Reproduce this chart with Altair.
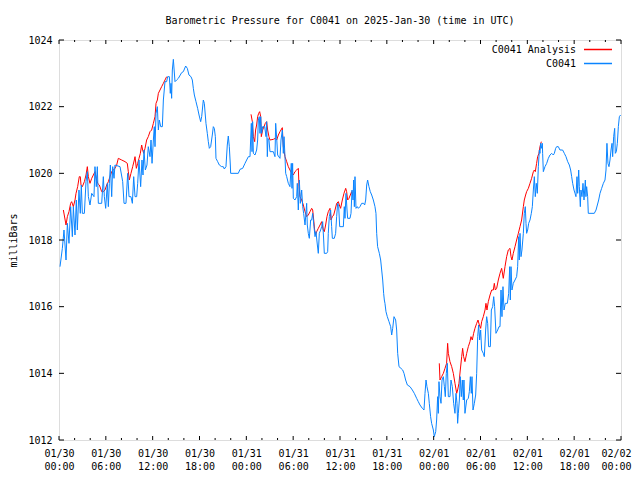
import altair as alt
import pandas as pd

# ---------------- data (hours since 2025-01-30 00:00 UTC, millibars) ----------------
day_labels = ["01/30", "01/31", "02/01", "02/02"]
x_major = list(range(0, 73, 6))
x_minor = [h for h in range(0, 73, 2) if h % 6 != 0]
y_major = [1012, 1014, 1016, 1018, 1020, 1022, 1024]

blue_hours = [
    0.13, 0.43, 0.64, 0.90, 1.07, 1.28, 1.49, 1.71, 1.84, 2.05, 2.22, 2.35, 2.56, 2.73, 2.86, 2.99,
    3.25, 3.46, 3.63, 3.76, 3.97, 4.19, 4.48, 4.61, 4.78, 4.91, 5.04, 5.47, 5.68, 5.81, 5.98, 6.19,
    6.32, 6.45, 6.58, 6.75, 6.88, 7.05, 7.17, 7.82, 8.16, 8.33, 8.58, 8.80, 8.97, 9.22, 9.40, 9.57,
    9.74, 9.95, 10.08, 10.25, 10.46, 10.63, 10.76, 10.89, 11.06, 11.27, 11.44, 11.66, 11.79, 11.92,
    12.09, 12.21, 12.30, 12.43, 12.60, 12.73, 12.85, 13.03, 13.24, 13.37, 13.58, 13.79, 13.92, 14.14,
    14.26, 14.35, 14.43, 14.52, 14.65, 14.86, 15.07, 15.29, 15.71, 15.93, 16.23, 16.44, 16.65, 16.91,
    17.08, 17.21, 17.34, 17.55, 17.76, 17.94, 18.15, 18.28, 18.49, 18.62, 18.83, 19.00, 19.13, 19.26,
    19.43, 19.64, 19.77, 19.90, 20.03, 20.11, 20.33, 20.54, 20.84, 21.05, 21.18, 21.39, 21.56, 21.69,
    21.82, 21.95, 21.99, 22.97, 23.19, 23.53, 23.83, 24.04, 24.26, 24.47, 24.55, 24.64, 24.73, 24.81,
    24.90, 25.11, 25.32, 25.45, 25.54, 25.66, 25.75, 25.84, 25.96, 26.09, 26.35, 26.52, 26.60, 26.69,
    26.77, 26.90, 27.03, 27.46, 27.67, 27.76, 27.89, 28.01, 28.31, 28.44, 28.61, 28.74, 28.83, 28.95,
    29.04, 29.17, 29.38, 29.59, 29.76, 29.85, 29.93, 30.02, 30.23, 30.45, 30.53, 30.66, 30.79, 30.92,
    31.09, 31.22, 31.34, 31.52, 31.73, 31.81, 31.94, 32.07, 32.24, 32.37, 32.50, 32.67, 32.80, 32.92,
    33.10, 33.22, 33.35, 33.52, 33.65, 33.78, 33.91, 33.99, 34.29, 34.42, 34.50, 34.63, 34.80, 34.93,
    35.02, 35.27, 35.44, 35.57, 35.70, 35.83, 35.96, 36.43, 36.55, 36.64, 36.77, 36.90, 36.98, 37.28,
    37.41, 37.54, 37.67, 37.75, 37.84, 37.92, 38.05, 38.22, 38.35, 38.56, 38.78, 39.03, 39.16, 39.29,
    39.42, 39.54, 39.71, 39.88, 40.06, 40.27, 40.48, 40.61, 40.70, 40.82, 41.04, 41.21, 41.34, 41.47,
    41.59, 41.68, 41.76, 41.89, 42.06, 42.28, 42.49, 42.62, 42.75, 42.92, 43.13, 43.26, 43.39, 43.56,
    43.81, 44.03, 44.20, 44.41, 44.63, 44.97, 45.27, 45.52, 45.82, 46.03, 46.25, 46.55, 46.76, 46.89,
    47.02, 47.14, 47.32, 47.44, 47.61, 47.74, 47.96, 48.08, 48.26, 48.38, 48.51, 48.60, 48.68, 48.81,
    48.94, 49.07, 49.24, 49.37, 49.49, 49.62, 49.75, 49.88, 50.09, 50.22, 50.39, 50.56, 50.73, 50.86,
    50.99, 51.07, 51.16, 51.29, 51.41, 51.54, 51.67, 51.80, 51.88, 52.01, 52.23, 52.44, 52.57, 52.70,
    52.82, 52.91, 53.04, 53.21, 53.38, 53.51, 53.64, 53.76, 53.89, 54.02, 54.15, 54.36, 54.49, 54.66,
    54.79, 54.92, 55.04, 55.26, 55.39, 55.56, 55.69, 55.81, 55.98, 56.20, 56.37, 56.50, 56.63, 56.75,
    56.88, 57.01, 57.18, 57.44, 57.61, 57.74, 57.82, 57.91, 58.03, 58.20, 58.42, 58.63, 58.76, 58.89,
    58.97, 59.06, 59.19, 59.31, 59.49, 59.61, 59.74, 59.83, 59.91, 60.04, 60.17, 60.34, 60.51, 60.64,
    60.77, 60.90, 61.02, 61.15, 61.28, 61.41, 61.54, 61.62, 61.71, 61.84, 61.92, 61.96, 62.05, 62.26,
    62.48, 62.69, 62.90, 63.12, 63.33, 63.46, 63.63, 63.76, 63.97, 64.18, 64.52, 64.74, 64.95, 65.17,
    65.38, 65.55, 65.68, 65.81, 65.98, 66.11, 66.23, 66.36, 66.45, 66.58, 66.66, 66.79, 66.87, 67.00,
    67.13, 67.26, 67.43, 67.51, 67.60, 67.73, 67.81, 68.58, 68.80, 68.97, 69.14, 69.31, 69.52, 69.74,
    69.95, 70.08, 70.20, 70.33, 70.46, 70.59, 70.72, 70.85, 70.93, 71.06, 71.19, 71.27, 71.40, 71.53,
    71.66, 71.79, 71.95,
]
blue_mb = [
    1017.2, 1017.75, 1018.3, 1017.4, 1018.5, 1017.9, 1019.0, 1018.1, 1019.0, 1018.15, 1019.2, 1018.3, 1019.5, 1018.8, 1019.65, 1018.8,
    1018.8, 1019.75, 1020.05, 1019.3, 1019.05, 1019.4, 1019.3, 1020.2, 1019.6, 1020.2, 1019.1, 1019.1, 1019.9, 1019.3, 1018.95, 1019.7,
    1019.0, 1019.7, 1020.25, 1019.3, 1020.2, 1019.85, 1020.25, 1020.2, 1019.75, 1019.1, 1019.1, 1020.0, 1019.3, 1019.3, 1019.1, 1019.9,
    1019.3, 1019.3, 1019.7, 1020.4, 1019.6, 1020.4, 1019.95, 1020.7, 1020.1, 1020.25, 1020.8, 1020.5, 1021.0, 1020.3,
    1021.0, 1021.4, 1020.8, 1021.8, 1022.0, 1021.3, 1021.6, 1021.4, 1021.4, 1022.2, 1022.75, 1022.75, 1022.9, 1022.9,
    1022.4, 1022.7, 1022.25, 1023.1, 1023.42, 1022.75, 1022.8, 1022.85, 1023.02, 1023.05, 1023.22, 1023.15, 1022.95, 1022.9,
    1022.8, 1022.55, 1022.35, 1022.15, 1021.95, 1021.75, 1021.55, 1021.7, 1022.2, 1022.1, 1021.5, 1021.2, 1020.95, 1020.75,
    1020.8, 1021.15, 1021.4, 1021.35, 1021.1, 1020.45, 1020.35, 1020.25, 1020.2, 1020.2, 1020.13, 1020.2, 1020.85, 1021.12,
    1020.8, 1020.25, 1020.0, 1020.0, 1020.12, 1020.15, 1020.3, 1020.4, 1020.5, 1020.5, 1021.0, 1021.5, 1020.65, 1021.55,
    1020.6, 1020.55, 1020.7, 1021.0, 1021.6, 1021.7, 1021.2, 1021.7, 1021.2, 1021.4, 1021.4, 1021.1, 1021.55, 1020.5,
    1021.05, 1021.0, 1020.65, 1020.65, 1020.5, 1021.5, 1021.05, 1020.55, 1020.45, 1021.0, 1021.3, 1020.6, 1021.1, 1020.5,
    1020.0, 1019.9, 1019.7, 1019.6, 1020.3, 1019.55, 1020.3, 1019.25, 1019.2, 1019.3, 1019.7, 1018.9, 1019.8, 1019.1,
    1019.5, 1019.0, 1018.8, 1018.45, 1019.1, 1018.45, 1018.2, 1018.05, 1018.6, 1018.6, 1018.8, 1018.4, 1018.1, 1018.25,
    1017.85, 1017.6, 1018.2, 1018.3, 1018.4, 1018.55, 1018.0, 1017.6, 1017.6, 1017.65, 1018.2, 1018.7, 1018.9, 1018.4,
    1018.05, 1018.05, 1018.2, 1018.7, 1019.1, 1019.0, 1018.4, 1018.4, 1019.0, 1018.65, 1019.4, 1018.9, 1018.65, 1018.65,
    1018.8, 1019.5, 1019.2, 1019.8, 1019.0, 1019.9, 1018.95, 1019.0, 1018.95, 1019.0, 1019.1, 1019.1, 1019.05, 1019.2,
    1019.65, 1019.8, 1019.6, 1019.45, 1019.35, 1019.2, 1019.0, 1018.8, 1018.2, 1017.8, 1017.6, 1017.4, 1017.1, 1016.8,
    1016.4, 1016.2, 1016.1, 1015.85, 1015.7, 1015.55, 1015.4, 1015.15, 1015.35, 1015.7, 1015.6, 1015.3, 1014.6, 1014.2,
    1014.15, 1014.1, 1014.0, 1013.8, 1013.65, 1013.6, 1013.5, 1013.4, 1013.25, 1013.15, 1013.05, 1012.95, 1012.9, 1013.4,
    1013.8, 1013.6, 1013.4, 1013.1, 1012.7, 1012.5, 1012.3, 1012.1, 1012.25, 1012.6, 1013.3, 1012.8, 1013.75, 1013.3,
    1013.1, 1013.8, 1013.9, 1013.6, 1013.3, 1014.0, 1014.3, 1013.3, 1013.3, 1013.8, 1013.6, 1013.1, 1012.8, 1013.4,
    1013.1, 1012.5, 1012.8, 1013.2, 1013.9, 1013.3, 1013.8, 1013.2, 1013.8, 1012.8, 1013.2, 1013.25, 1013.45, 1013.9,
    1013.4, 1013.9, 1012.9, 1013.1, 1013.35, 1014.0, 1015.1, 1015.45, 1015.0, 1015.3, 1014.7, 1014.6, 1014.5, 1015.3,
    1015.7, 1015.5, 1014.8, 1014.8, 1015.9, 1016.0, 1016.3, 1016.0, 1015.2, 1015.3, 1015.4, 1015.4, 1016.5, 1015.7,
    1016.6, 1015.9, 1016.1, 1016.1, 1016.4, 1017.2, 1016.2, 1017.2, 1016.5, 1016.7, 1016.8, 1016.9, 1017.2, 1018.1,
    1017.4, 1018.2, 1017.5, 1017.7, 1018.2, 1018.8, 1019.0, 1018.5, 1018.2, 1018.3, 1018.5, 1018.6, 1018.8, 1019.0,
    1019.5, 1019.9, 1019.3, 1019.7, 1019.4, 1020.2, 1020.7, 1020.6, 1020.9, 1020.75, 1020.9, 1020.6, 1020.05, 1020.2,
    1020.3, 1020.45, 1020.55, 1020.6, 1020.55, 1020.6, 1020.75, 1020.8, 1020.8, 1020.7, 1020.7, 1020.6, 1020.5, 1020.35,
    1020.25, 1020.1, 1019.9, 1019.7, 1019.5, 1019.4, 1019.3, 1019.9, 1019.4, 1020.1, 1019.6, 1019.0, 1019.5, 1019.3,
    1019.7, 1019.2, 1019.8, 1019.3, 1019.6, 1019.3, 1018.8, 1018.8, 1018.9, 1019.05, 1019.2, 1019.4, 1019.55, 1019.7,
    1019.8, 1020.1, 1020.9, 1020.3, 1020.2, 1020.4, 1020.7, 1020.9, 1020.5, 1021.1, 1021.35, 1020.6, 1020.65, 1020.9,
    1021.4, 1021.7, 1021.75,
]

red_hours_1 = [
    0.56, 0.90, 1.07, 1.28, 1.49, 1.62, 1.84, 2.05, 2.18, 2.39, 2.60, 2.73, 2.82, 2.99, 3.25, 3.46,
    3.63, 3.76, 3.97, 4.19, 4.40, 4.61, 4.78, 4.95, 5.17, 5.47, 5.68, 5.89, 6.11, 6.32, 6.53, 6.75,
    6.96, 7.17, 7.39, 7.60, 8.03, 8.46, 8.75, 8.88, 9.01, 9.22, 9.44, 9.65, 9.74, 9.91, 10.08, 10.25,
    10.42, 10.59, 10.72, 10.85, 11.02, 11.23, 11.44, 11.66, 11.87, 12.09, 12.30, 12.43, 12.60, 12.73,
    12.94, 13.15, 13.37, 13.58, 13.79,
]
red_mb_1 = [
    1018.9, 1018.45, 1018.7, 1018.85, 1019.1, 1019.15, 1019.0, 1019.2, 1019.4, 1019.6, 1019.9, 1019.9, 1019.65, 1019.6, 1019.75, 1019.95,
    1020.2, 1019.9, 1019.7, 1019.85, 1019.95, 1020.05, 1019.85, 1019.7, 1019.65, 1019.45, 1019.45, 1019.5, 1019.65, 1019.75, 1019.9, 1020.05,
    1020.1, 1020.15, 1020.25, 1020.45, 1020.4, 1020.35, 1020.3, 1020.05, 1019.8, 1020.0, 1020.2, 1020.4, 1020.5, 1020.15, 1020.3, 1020.45,
    1020.6, 1020.85, 1020.7, 1020.6, 1020.75, 1021.0, 1021.1, 1021.25, 1021.3, 1021.5, 1021.7, 1022.1, 1022.2, 1022.4,
    1022.5, 1022.6, 1022.7, 1022.8, 1022.9,
]

red_hours_2 = [
    24.60, 24.77, 24.90, 25.07, 25.19, 25.32, 25.45, 25.58, 25.71, 25.84, 25.92, 26.09, 26.26, 26.43, 26.60, 26.73,
    26.90, 27.03, 27.46, 27.71, 27.89, 28.10, 28.31, 28.61, 28.74, 28.95, 29.17, 29.38, 29.59, 29.81, 30.02, 30.23,
    30.45, 30.66, 30.75, 30.87, 31.09, 31.30, 31.52, 31.73, 31.94, 32.16, 32.37, 32.50, 32.63, 32.75, 32.88, 33.01,
    33.22, 33.44, 33.65, 33.86, 33.99, 34.16, 34.33, 34.50, 34.72, 34.85, 35.02, 35.19, 35.36, 35.57, 35.79, 35.91,
    36.08, 36.30, 36.51, 36.73, 36.85, 36.98, 37.15, 37.32, 37.49, 37.62,
]
red_mb_2 = [
    1021.77, 1021.55, 1021.1, 1020.95, 1021.3, 1021.45, 1021.7, 1021.8, 1021.85, 1021.7, 1021.1, 1021.3, 1021.4, 1021.5, 1021.55, 1021.3,
    1021.1, 1021.0, 1021.02, 1021.05, 1021.0, 1021.15, 1021.25, 1021.37, 1020.8, 1020.5, 1020.35, 1020.2, 1020.1, 1020.0, 1019.95, 1020.05,
    1020.1, 1020.15, 1019.6, 1019.3, 1019.2, 1019.05, 1018.85, 1018.7, 1018.75, 1018.85, 1018.95, 1018.9, 1018.6, 1018.3, 1018.15, 1018.25,
    1018.35, 1018.45, 1018.55, 1018.3, 1018.25, 1018.45, 1018.7, 1018.85, 1018.95, 1018.6, 1018.7, 1018.75, 1018.9, 1019.1, 1019.15, 1019.05,
    1018.95, 1019.2, 1019.4, 1019.55, 1019.45, 1019.2, 1019.25, 1019.35, 1019.45, 1019.35,
]

red_hours_3 = [
    48.72, 48.81, 49.02, 49.24, 49.45, 49.66, 49.79, 49.88, 50.09, 50.31, 50.52, 50.73, 50.95, 51.07, 51.24, 51.41,
    51.59, 51.71, 51.84, 52.01, 52.23, 52.44, 52.65, 52.78, 52.95, 53.12, 53.29, 53.51, 53.68, 53.85, 54.02, 54.15,
    54.36, 54.58, 54.70, 54.83, 55.00, 55.22, 55.43, 55.64, 55.77, 55.90, 56.07, 56.28, 56.50, 56.71, 56.92, 57.14,
    57.35, 57.56, 57.78, 57.91, 58.03, 58.20, 58.42, 58.63, 58.85, 59.06, 59.27, 59.49, 59.61, 59.78, 59.91, 60.13,
    60.34, 60.55, 60.77, 60.90, 61.02, 61.19, 61.32, 61.49, 61.62, 61.79,
]
red_mb_3 = [
    1014.3, 1013.8, 1013.9, 1014.0, 1014.15, 1014.3, 1014.9, 1014.6, 1014.35, 1014.2, 1014.0, 1013.7, 1013.4, 1013.5, 1013.7, 1014.1,
    1014.5, 1014.75, 1014.5, 1014.35, 1014.6, 1014.8, 1014.95, 1015.1, 1015.0, 1015.2, 1015.35, 1015.5, 1015.6, 1015.45, 1015.35, 1015.55,
    1015.7, 1015.9, 1016.1, 1015.9, 1016.15, 1016.35, 1016.5, 1016.5, 1016.7, 1016.5, 1016.55, 1016.8, 1017.0, 1017.15, 1016.85, 1017.2,
    1017.5, 1017.7, 1017.75, 1017.5, 1017.4, 1017.6, 1017.8, 1018.0, 1018.2, 1018.4, 1018.6, 1019.0, 1019.2, 1019.35, 1019.45, 1019.55,
    1019.7, 1019.85, 1020.05, 1020.1, 1020.05, 1020.3, 1020.5, 1020.6, 1020.8, 1020.95,
]

legend_labels = ["C0041 Analysis", "C0041"]
title_text = "Barometric Pressure for C0041 on 2025-Jan-30 (time in UTC)"
y_title = "milliBars"

# ---------------- styling ----------------
FONT = "DejaVu Sans Mono"
RED = "#ff0000"
BLUE = "#0a84ff"
W, H = 562, 400

obs = pd.DataFrame({"h": blue_hours, "p": blue_mb})
ana = pd.concat(
    [
        pd.DataFrame({"h": hh, "p": pp, "seg": i})
        for i, (hh, pp) in enumerate(
            [(red_hours_1, red_mb_1), (red_hours_2, red_mb_2), (red_hours_3, red_mb_3)]
        )
    ],
    ignore_index=True,
)

xs = alt.Scale(domain=[0, 72], nice=False, zero=False)
ys = alt.Scale(domain=[1012, 1024], nice=False, zero=False)

days_js = "[" + ",".join("'" + d + "'" for d in day_labels) + "]"
label_expr = (
    f"[{days_js}[floor(datum.value / 24)], "
    "(datum.value % 24 < 10 ? '0' : '') + (datum.value % 24) + ':00']"
)

x_axis = alt.Axis(
    values=x_major, labelExpr=label_expr, ticks=False, tickSize=0, domain=False, grid=False,
    labelFont=FONT, labelFontSize=10, labelColor="black", labelPadding=8, labelLineHeight=13.5,
    labelFlush=False, labelOverlap=False, title=None,
    labelOffset=alt.ExprRef("datum.value >= 72 ? -5 : 0"),
)
y_axis = alt.Axis(
    values=y_major, ticks=False, tickSize=0, domain=False, grid=False, format="d",
    labelFont=FONT, labelFontSize=10, labelColor="black", labelPadding=7, labelFlush=False,
    title=y_title, titleFont=FONT, titleFontSize=10, titleFontWeight="normal",
    titleColor="black", titlePadding=9,
)

X = alt.X("h:Q", scale=xs, axis=x_axis)
Y = alt.Y("p:Q", scale=ys, axis=y_axis)

red = alt.Chart(ana).mark_line(color=RED, strokeWidth=1).encode(x=X, y=Y, detail="seg:N")
blue = alt.Chart(obs).mark_line(color=BLUE, strokeWidth=1).encode(x=X, y=Y)

xmaj = pd.DataFrame({"h": x_major})
xmin = pd.DataFrame({"h": x_minor})
ymaj = pd.DataFrame({"p": y_major})

def xticks(df, length):
    bottom = alt.Chart(df).mark_rule(color="black", strokeWidth=1).encode(
        x=X, y=alt.value(H), y2=alt.value(H - length))
    top = alt.Chart(df).mark_rule(color="black", strokeWidth=1).encode(
        x=X, y=alt.value(0), y2=alt.value(length))
    return [bottom, top]

yt_left = alt.Chart(ymaj).mark_rule(color="black", strokeWidth=1).encode(
    y=Y, x=alt.value(0), x2=alt.value(5))
yt_right = alt.Chart(ymaj).mark_rule(color="black", strokeWidth=1).encode(
    y=Y, x=alt.value(W), x2=alt.value(W - 5))

leg_df = pd.DataFrame({"label": legend_labels, "row": [0, 1]})
leg = []
for i, (lab, col) in enumerate(zip(legend_labels, [RED, BLUE])):
    yy = 9.5 + 14 * i
    leg.append(
        alt.Chart(leg_df.iloc[[i]]).mark_text(align="right", baseline="middle", font=FONT,
                                               fontSize=10, color="black")
        .encode(x=alt.value(517), y=alt.value(yy), text="label:N")
    )
    leg.append(
        alt.Chart(leg_df.iloc[[i]]).mark_rule(stroke=col, color=col, strokeWidth=1.5)
        .encode(x=alt.value(525), x2=alt.value(553), y=alt.value(yy))
    )

chart = alt.layer(
    red, blue, *xticks(xmaj, 4), *xticks(xmin, 2), yt_left, yt_right, *leg
).properties(
    width=W,
    height=H,
    title=alt.TitleParams(title_text, font=FONT, fontSize=10, fontWeight="normal",
                          color="black", anchor="middle", offset=9),
    padding={"left": 51, "top": 32, "right": 11, "bottom": 32},
    autosize=alt.AutoSizeParams(type="none"),
).configure_view(
    stroke="black", strokeWidth=1
).configure(background="white")

chart.save("out.html", embed_options={"renderer": "svg", "actions": False})
